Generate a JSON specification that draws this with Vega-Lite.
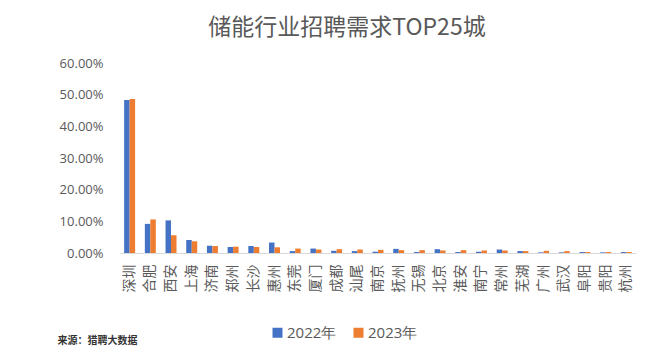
{
  "$schema": "https://vega.github.io/schema/vega-lite/v6.json",
  "autosize": {"type": "none"},
  "padding": {"left": 120, "top": 63, "right": 31, "bottom": 98},
  "width": 516,
  "height": 190,
  "background": "white",
  "title": {
    "text": "储能行业招聘需求TOP25城",
    "font": "Noto Sans CJK SC",
    "fontSize": 23,
    "fontWeight": "normal",
    "color": "#595959",
    "anchor": "middle",
    "frame": "group",
    "dx": -31,
    "offset": 17
  },
  "data": {
    "values": [
      {"city": "深圳", "year": "2022年", "value": 0.483},
      {"city": "深圳", "year": "2023年", "value": 0.486},
      {"city": "合肥", "year": "2022年", "value": 0.092},
      {"city": "合肥", "year": "2023年", "value": 0.106},
      {"city": "西安", "year": "2022年", "value": 0.103},
      {"city": "西安", "year": "2023年", "value": 0.056},
      {"city": "上海", "year": "2022年", "value": 0.041},
      {"city": "上海", "year": "2023年", "value": 0.037},
      {"city": "济南", "year": "2022年", "value": 0.023},
      {"city": "济南", "year": "2023年", "value": 0.022},
      {"city": "郑州", "year": "2022年", "value": 0.019},
      {"city": "郑州", "year": "2023年", "value": 0.020},
      {"city": "长沙", "year": "2022年", "value": 0.022},
      {"city": "长沙", "year": "2023年", "value": 0.019},
      {"city": "惠州", "year": "2022年", "value": 0.033},
      {"city": "惠州", "year": "2023年", "value": 0.018},
      {"city": "东莞", "year": "2022年", "value": 0.006},
      {"city": "东莞", "year": "2023年", "value": 0.014},
      {"city": "厦门", "year": "2022年", "value": 0.014},
      {"city": "厦门", "year": "2023年", "value": 0.011},
      {"city": "成都", "year": "2022年", "value": 0.007},
      {"city": "成都", "year": "2023年", "value": 0.012},
      {"city": "汕尾", "year": "2022年", "value": 0.006},
      {"city": "汕尾", "year": "2023年", "value": 0.011},
      {"city": "南京", "year": "2022年", "value": 0.004},
      {"city": "南京", "year": "2023年", "value": 0.010},
      {"city": "抚州", "year": "2022年", "value": 0.013},
      {"city": "抚州", "year": "2023年", "value": 0.009},
      {"city": "无锡", "year": "2022年", "value": 0.003},
      {"city": "无锡", "year": "2023年", "value": 0.009},
      {"city": "北京", "year": "2022年", "value": 0.012},
      {"city": "北京", "year": "2023年", "value": 0.008},
      {"city": "淮安", "year": "2022年", "value": 0.003},
      {"city": "淮安", "year": "2023年", "value": 0.009},
      {"city": "南宁", "year": "2022年", "value": 0.004},
      {"city": "南宁", "year": "2023年", "value": 0.008},
      {"city": "常州", "year": "2022年", "value": 0.011},
      {"city": "常州", "year": "2023年", "value": 0.008},
      {"city": "芜湖", "year": "2022年", "value": 0.006},
      {"city": "芜湖", "year": "2023年", "value": 0.006},
      {"city": "广州", "year": "2022年", "value": 0.002},
      {"city": "广州", "year": "2023年", "value": 0.007},
      {"city": "武汉", "year": "2022年", "value": 0.002},
      {"city": "武汉", "year": "2023年", "value": 0.006},
      {"city": "阜阳", "year": "2022年", "value": 0.003},
      {"city": "阜阳", "year": "2023年", "value": 0.003},
      {"city": "贵阳", "year": "2022年", "value": 0.002},
      {"city": "贵阳", "year": "2023年", "value": 0.003},
      {"city": "杭州", "year": "2022年", "value": 0.003},
      {"city": "杭州", "year": "2023年", "value": 0.003}
    ]
  },
  "mark": {"type": "bar"},
  "encoding": {
    "x": {
      "field": "city",
      "type": "nominal",
      "sort": null,
      "scale": {"paddingInner": 0.47, "paddingOuter": 0.2},
      "axis": {
        "title": "来源：猎聘大数据",
        "titleFont": "Noto Sans CJK SC",
        "titleFontSize": 10,
        "titleFontWeight": "bold",
        "titleColor": "#333333",
        "titleAnchor": "start",
        "titleAlign": "left",
        "titleBaseline": "middle",
        "titleX": -63,
        "titleY": 87,
        "labelAngle": -90,
        "labelAlign": "right",
        "labelBaseline": "middle",
        "labelFont": "Noto Sans CJK SC",
        "labelFontSize": 14,
        "labelColor": "#595959",
        "labelPadding": 11,
        "ticks": false,
        "domainColor": "#d9d9d9",
        "domainWidth": 1
      }
    },
    "xOffset": {"field": "year", "type": "nominal", "scale": {"paddingInner": 0}},
    "y": {
      "field": "value",
      "type": "quantitative",
      "scale": {"domain": [0, 0.6]},
      "axis": {
        "title": null,
        "format": ".2%",
        "values": [0, 0.1, 0.2, 0.3, 0.4, 0.5, 0.6],
        "labelFont": "Open Sans",
        "labelFontSize": 13,
        "labelColor": "#595959",
        "labelPadding": 17,
        "ticks": false,
        "domain": false,
        "grid": false
      }
    },
    "color": {
      "field": "year",
      "type": "nominal",
      "scale": {"domain": ["2022年", "2023年"], "range": ["#4472C4", "#ED7D31"]},
      "legend": {
        "title": null,
        "orient": "none",
        "direction": "horizontal",
        "legendX": 150,
        "legendY": 262,
        "symbolType": "square",
        "symbolSize": 100,
        "symbolStrokeWidth": 0,
        "labelFont": "Open Sans",
        "labelFontSize": 15,
        "labelColor": "#595959",
        "labelOffset": 2,
        "columnPadding": 14
      }
    }
  },
  "config": {"view": {"stroke": null}}
}
